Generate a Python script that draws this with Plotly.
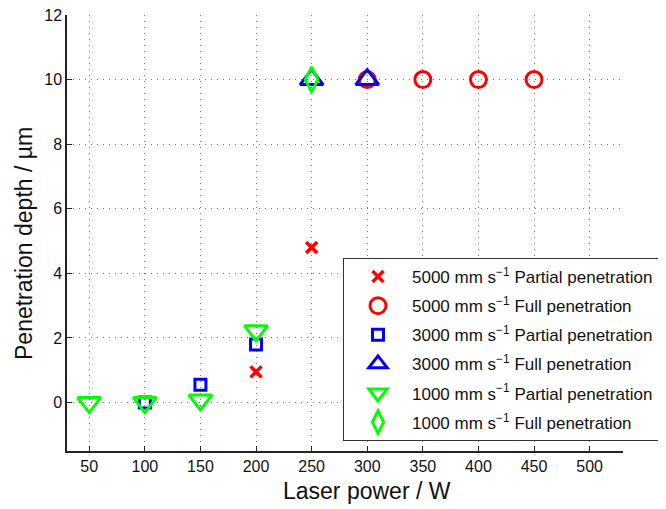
import plotly.graph_objects as go

# Data
p5000_partial_x = [200, 250]
p5000_partial_y = [0.95, 4.8]
p5000_full_x = [300, 350, 400, 450]
p5000_full_y = [10, 10, 10, 10]
p3000_partial_x = [100, 150, 200]
p3000_partial_y = [0.0, 0.55, 1.8]
p3000_full_x = [250, 300]
p3000_full_y = [10, 10]
p1000_partial_x = [50, 100, 150, 200]
p1000_partial_y = [0.0, 0.0, 0.08, 2.22]
p1000_full_x = [250]
p1000_full_y = [10]

x_ticks = [50, 100, 150, 200, 250, 300, 350, 400, 450, 500]
y_ticks = [0, 2, 4, 6, 8, 10, 12]

RED, BLUE, GREEN = "#FF0000", "#0000FF", "#00FF00"
sup = " mm s<sup>\u22121</sup> "

series = [
    (p5000_partial_x, p5000_partial_y, "5000" + sup + "Partial penetration", "x-thin-open", 11, RED, 3.5),
    (p5000_full_x, p5000_full_y, "5000" + sup + "Full penetration", "circle-open", 16, RED, 3),
    (p3000_partial_x, p3000_partial_y, "3000" + sup + "Partial penetration", "square-open", 11, BLUE, 3),
    (p3000_full_x, p3000_full_y, "3000" + sup + "Full penetration", "triangle-up-open", 20, BLUE, 3),
    (p1000_partial_x, p1000_partial_y, "1000" + sup + "Partial penetration", "triangle-down-open", 20, GREEN, 3),
    (p1000_full_x, p1000_full_y, "1000" + sup + "Full penetration", "diamond-tall-open", 18, GREEN, 3),
]

fig = go.Figure()
for i, (xs, ys, name, sym, size, col, lw) in enumerate(series):
    fig.add_trace(go.Scatter(
        x=xs, y=ys, mode="markers", name=name, legendgroup=str(i),
        marker=dict(symbol=sym, size=size, color=col, line=dict(color=col, width=lw)),
    ))

# page body has an 8px margin; figure pixel = page pixel - 8
OFF = 8
W, H = 658, 501
L, T = 67 - OFF, 15 - OFF
pw, ph = 556, 436
R, B = W - L - pw, H - T - ph


def px(xp):
    return (xp - OFF - L) / pw


def py(yp):
    return (T + ph - (yp - OFF)) / ph


axis_common = dict(
    automargin=False, ticklabeloverflow="allow",
    showline=True, linecolor="#222222", linewidth=1.5,
    ticks="inside", ticklen=5, tickcolor="#222222", tickwidth=1,
    showgrid=True, gridcolor="#777777", griddash="1px,5px", gridwidth=1,
    zeroline=False, mirror=False,
    tickfont=dict(family="Liberation Sans, Arial, sans-serif", size=16, color="#111111"),
)

fig.update_xaxes(range=[30, 530], tickvals=x_ticks, **axis_common)
fig.update_yaxes(range=[-1.5, 12], tickvals=y_ticks, **axis_common)

fig.update_layout(
    width=W, height=H,
    margin=dict(l=L, r=R, t=T, b=B, pad=0, autoexpand=False),
    paper_bgcolor="white", plot_bgcolor="white",
    font=dict(family="Liberation Sans, Arial, sans-serif", color="#111111"),
    showlegend=True,
    legend=dict(
        x=px(343), y=py(258), xanchor="left", yanchor="top",
        bordercolor="#333333", borderwidth=1, bgcolor="white",
        font=dict(size=17, color="#111111"),
        tracegroupgap=4, itemwidth=58,
    ),
    annotations=[
        dict(text="Laser power / W", xref="paper", yref="paper",
             x=px(367), y=py(491), xanchor="center", yanchor="middle",
             showarrow=False, font=dict(size=23, color="#111111")),
        dict(text="Penetration depth / \u00b5m", xref="paper", yref="paper",
             x=px(24), y=py(244), xanchor="center", yanchor="middle",
             textangle=-90, showarrow=False, font=dict(size=23, color="#111111")),
    ],
)

fig.write_html("out.html")
